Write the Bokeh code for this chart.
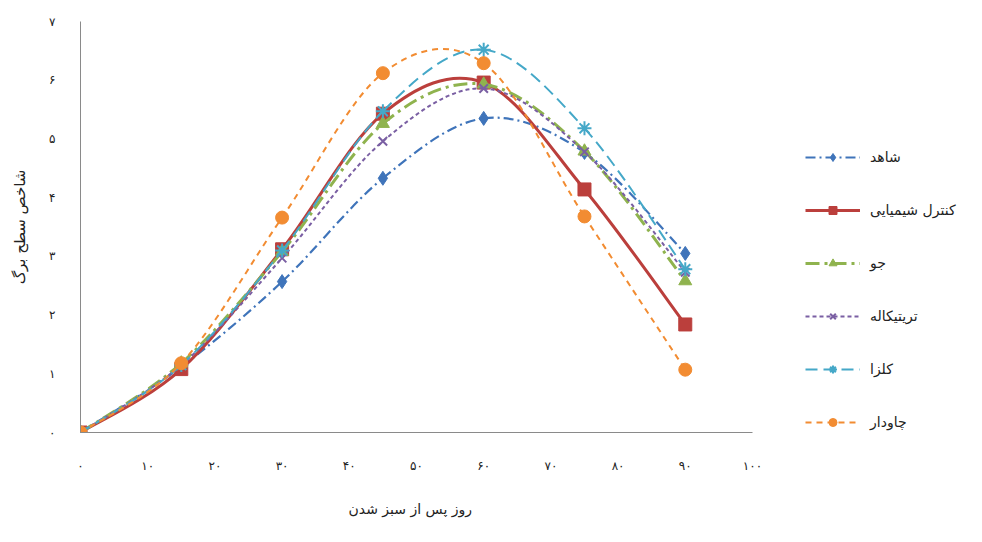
from bokeh.plotting import figure
from bokeh.models import Range1d, Legend, LegendItem, FixedTicker, Title
from bokeh.embed import file_html
from bokeh.resources import INLINE

days = [0, 15, 30, 45, 60, 75, 90]
shahed = [0, 1.12, 2.57, 4.33, 5.35, 4.77, 3.05]
chemical = [0, 1.08, 3.12, 5.43, 5.96, 4.14, 1.84]
jow = [0, 1.18, 3.08, 5.26, 5.93, 4.79, 2.58]
triticale = [0, 1.15, 2.97, 4.96, 5.86, 4.78, 2.73]
canola = [0, 1.15, 3.10, 5.47, 6.52, 5.18, 2.78]
rye = [0, 1.18, 3.66, 6.12, 6.29, 3.68, 1.07]

names = ["شاهد", "کنترل شیمیایی", "جو", "تریتیکاله", "کلزا", "چاودار"]
series = [shahed, chemical, jow, triticale, canola, rye]

x_ticks = [0, 10, 20, 30, 40, 50, 60, 70, 80, 90, 100]
y_ticks = [0, 1, 2, 3, 4, 5, 6, 7]
fa_digits = "۰۱۲۳۴۵۶۷۸۹"
x_title = "روز پس از سبز شدن"
y_title = "شاخص سطح برگ"


def fa(n):
    return "".join(fa_digits[int(c)] for c in str(n))


colors = ["#3f74ba", "#bb3f3c", "#8fb34e", "#7a5fa3", "#45a8c8", "#f28c32"]
dashes = ["10 4 2 4", "solid", "14 5 3 5", "4 3", "12 6", "6 5"]
widths = [2.2, 3, 3, 2, 2, 2]
markers = ["diamond", "square", "triangle", "x", "asterisk", "circle"]
msizes = [14, 13, 13, 12, 14, 13]

FONT = "DejaVu Sans"

# frame spans the legend area too; the x axis line is bounded to 0..100
p = figure(width=966, height=542, output_backend="svg", toolbar_location=None,
           x_range=Range1d(0, 131.85), y_range=Range1d(0, 7),
           min_border_left=80, min_border_right=0, min_border_top=21,
           min_border_bottom=110)
p.outline_line_color = None
p.xgrid.visible = False
p.ygrid.visible = False
p.xaxis.bounds = (0, 100)

for ax in (p.xaxis[0], p.yaxis[0]):
    ax.axis_line_color = "#8a8a8a"
    ax.axis_line_width = 1
    ax.major_tick_line_color = None
    ax.minor_tick_line_color = None
    ax.major_tick_out = 0
    ax.major_tick_in = 0
    ax.major_label_text_font = FONT
    ax.major_label_text_font_size = "12px"
    ax.major_label_text_color = "#222222"
    ax.axis_label_text_font = FONT
    ax.axis_label_text_font_size = "15px"
    ax.axis_label_text_font_style = "normal"
    ax.axis_label_text_color = "#222222"

p.xaxis.ticker = FixedTicker(ticks=x_ticks)
p.yaxis.ticker = FixedTicker(ticks=y_ticks)
p.xaxis.major_label_overrides = {t: fa(t) for t in x_ticks}
p.yaxis.major_label_overrides = {t: fa(t) for t in y_ticks}
p.xaxis.major_label_standoff = 26
p.yaxis.major_label_standoff = 25
p.yaxis.axis_label = y_title
p.yaxis.axis_label_standoff = 17

p.add_layout(Title(text=x_title, align="left", offset=268, standoff=47,
                   text_font=FONT, text_font_size="14px",
                   text_font_style="normal", text_color="#222222"), "below")

items = []
for name, ys, c, d, w, m, ms in zip(names, series, colors, dashes, widths, markers, msizes):
    n = len(days)
    x0, y0, x1, y1, cx0, cy0, cx1, cy1 = [], [], [], [], [], [], [], []
    for i in range(n - 1):
        xp, yp = days[max(i - 1, 0)], ys[max(i - 1, 0)]
        xa, ya = days[i], ys[i]
        xb, yb = days[i + 1], ys[i + 1]
        xn, yn = days[min(i + 2, n - 1)], ys[min(i + 2, n - 1)]
        x0.append(xa); y0.append(ya); x1.append(xb); y1.append(yb)
        cx0.append(xa + (xb - xp) / 6.0); cy0.append(ya + (yb - yp) / 6.0)
        cx1.append(xb - (xn - xa) / 6.0); cy1.append(yb - (yn - ya) / 6.0)
    bz = p.bezier(x0=x0, y0=y0, x1=x1, y1=y1, cx0=cx0, cy0=cy0, cx1=cx1, cy1=cy1,
                  line_color=c, line_width=w, line_dash=d)
    sc = p.scatter(days, ys, marker=m, size=ms, fill_color=c, line_color=c,
                   line_width=2 if m in ("x", "asterisk") else 1)
    items.append(LegendItem(label=name, renderers=[bz, sc]))

legend = Legend(items=items, location=(725, 0), padding=0, margin=0,
                border_line_alpha=0, background_fill_alpha=0,
                glyph_width=55, glyph_height=20, label_height=20,
                spacing=33, label_standoff=10,
                label_text_font=FONT, label_text_font_size="14px",
                label_text_color="#222222")
p.add_layout(legend, "center")

open("out.html", "w").write(file_html(p, INLINE))
